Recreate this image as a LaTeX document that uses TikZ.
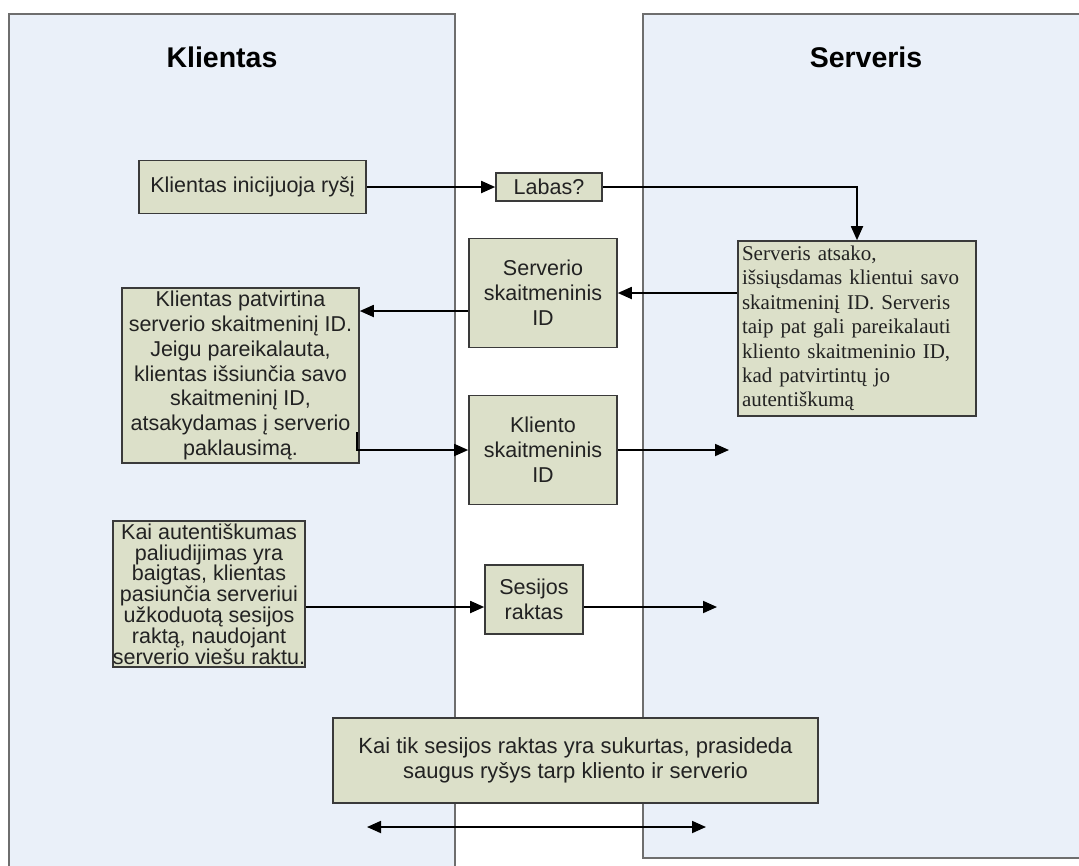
\documentclass[tikz,border=0pt]{standalone}
\usepackage{fontspec}
\setmainfont{Liberation Sans}
\newfontfamily\tnr{Liberation Serif}
\usetikzlibrary{arrows.meta,positioning}
\definecolor{panelfill}{HTML}{EAF0F9}
\definecolor{boxfill}{HTML}{DCE0C9}
\definecolor{edge}{HTML}{3A3A3A}
\definecolor{paneledge}{HTML}{6E6E6E}
\definecolor{txt}{HTML}{222222}
\begin{document}
\begin{tikzpicture}[x=1pt,y=-1pt,
  panel/.style={draw=paneledge,line width=1.8pt,fill=panelfill},
  stepbox/.style={draw=edge,line width=1.6pt,fill=boxfill,align=center,inner sep=0pt,
     text=txt,font=\fontsize{21.5}{24.8}\selectfont},
  arr/.style={line width=1.8pt,draw=black,-{Triangle[length=14pt,width=12pt]}},
  ttl/.style={font=\fontsize{28.5}{32}\selectfont\bfseries}]
\useasboundingbox (0,0) rectangle (1079,865);
\fill[white] (0,0) rectangle (1079,865);
% panels
\path[panel] (9,14) rectangle (455,880);
\path[panel] (643,14) rectangle (1090,858);
\node[ttl] (tk) at (222,57) {Klientas};
\node[ttl] (ts) at (866,57) {Serveris};
% boxes
\node[stepbox,minimum width=227pt,minimum height=53pt] (c1) at (252.5,187) {Klientas inicijuoja ryšį};
\node[stepbox,minimum width=106pt,minimum height=28pt] (lab) at (549,187) {Labas?};
\node[stepbox,minimum width=238pt,minimum height=175pt,align=left,text width=230pt,
      font=\tnr\fontsize{21}{24.4}\selectfont] (srv) at (857,328.5)
  {Serveris atsako,\\ išsiųsdamas klientui savo\\ skaitmeninį ID. Serveris\\ taip pat gali pareikalauti\\ kliento skaitmeninio ID,\\ kad patvirtintų jo\\ autentiškumą};
\node[stepbox,minimum width=148pt,minimum height=109pt] (sid) at (543,293) {Serverio\\ skaitmeninis\\ ID};
\node[stepbox,minimum width=237pt,minimum height=175pt] (c2) at (240.5,375.5) {Klientas patvirtina\\ serverio skaitmeninį ID.\\ Jeigu pareikalauta,\\ klientas išsiunčia savo\\ skaitmeninį ID,\\ atsakydamas į serverio\\ paklausimą.};
\node[stepbox,minimum width=148pt,minimum height=109pt] (kid) at (543,450) {Kliento\\ skaitmeninis\\ ID};
\node[stepbox,minimum width=190pt,minimum height=146pt,
      font=\fontsize{21.5}{20.8}\selectfont] (c3) at (209,594) {Kai autentiškumas\\ paliudijimas yra\\ baigtas, klientas\\ pasiunčia serveriui\\ užkoduotą sesijos\\ raktą, naudojant\\ serverio viešu raktu.};
\node[stepbox,minimum width=98pt,minimum height=69pt] (ses) at (534,599.5) {Sesijos\\ raktas};
\node[stepbox,minimum width=485pt,minimum height=85pt,font=\fontsize{22}{25}\selectfont] (fin) at (575.5,760.5) {Kai tik sesijos raktas yra sukurtas, prasideda\\ saugus ryšys tarp kliento ir serverio};
% free ends
\coordinate (k2) at (729,450);
\coordinate (s2) at (717,607);
\coordinate (dL) at (367,827);
\coordinate (dR) at (706,827);
% connectors
\draw[arr] (c1.east) -- (lab.west);
\draw[arr] (lab.east) -| (srv.north);
\draw[arr] (srv.west |- sid.center) -- (sid.east);
\draw[arr] (sid.west |- 0,311) -- (c2.east |- 0,311);
\draw[arr] ([xshift=-3pt]c2.east |- 0,432) |- (kid.west);
\draw[arr] (kid.east) -- (kid.east -| k2);
\draw[arr] (c3.east |- 0,607) -- (ses.west |- 0,607);
\draw[arr] (ses.east |- 0,607) -- (s2);
\draw[line width=1.8pt,{Triangle[length=14pt,width=12pt]}-{Triangle[length=14pt,width=12pt]}] (dL) -- (dR);
\end{tikzpicture}
\end{document}
